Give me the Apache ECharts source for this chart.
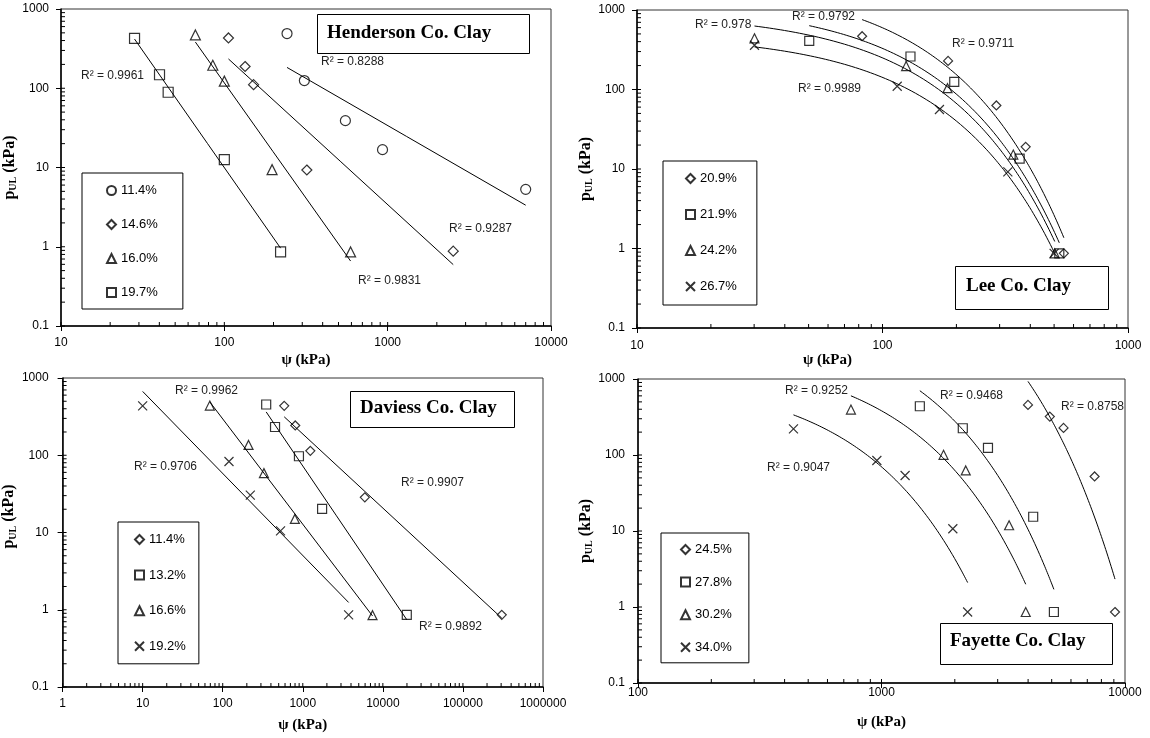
<!DOCTYPE html>
<html>
<head>
<meta charset="utf-8">
<script src="https://cdn.jsdelivr.net/npm/echarts@6/dist/echarts.min.js"></script>
<style>
  html, body { margin: 0; padding: 0; background: #fff; }
  #chart { width: 1150px; height: 738px; }
</style>
</head>
<body>
<div id="chart"></div>
<script>
// Ultimate lateral pressure p_UL (kPa) against suction ψ (kPa) for four clays.

// Henderson Co. Clay
const henderson114Psi = [242, 309, 551, 930, 7000];
const henderson114P   = [490, 125, 39, 16.8, 5.3];
const henderson146Psi = [106, 134, 151, 320, 2520];
const henderson146P   = [431, 188, 111, 9.3, 0.88];
const henderson160Psi = [66.5, 85, 100, 196, 593];
const henderson160P   = [471, 195, 123, 9.4, 0.86];
const henderson197Psi = [28.2, 40.1, 45.3, 100, 221];
const henderson197P   = [427, 148, 89, 12.6, 0.86];
const hendersonLabels = ['11.4%', '14.6%', '16.0%', '19.7%'];
const hendersonR2     = ['R² = 0.9961', 'R² = 0.8288', 'R² = 0.9287', 'R² = 0.9831'];

// Lee Co. Clay
const lee209Psi = [82.6, 185, 291, 383, 548];
const lee209P   = [468, 229, 63, 19, 0.87];
const lee219Psi = [50.3, 130, 196, 362, 525];
const lee219P   = [408, 260, 125, 13.5, 0.87];
const lee242Psi = [30.1, 124.8, 184, 341, 503];
const lee242P   = [440, 197, 104, 15.2, 0.87];
const lee267Psi = [30.1, 114.8, 170.6, 324, 500];
const lee267P   = [360, 110, 56, 9.2, 0.87];
const leeLabels = ['20.9%', '21.9%', '24.2%', '26.7%'];
const leeR2     = ['R² = 0.9792', 'R² = 0.978', 'R² = 0.9711', 'R² = 0.9989'];

// Daviess Co. Clay
const daviess114Psi = [586, 805, 1242, 5953, 305500];
const daviess114P   = [436, 243, 114, 28.5, 0.86];
const daviess132Psi = [349, 450, 895, 1742, 19900];
const daviess132P   = [454, 232, 97, 20.2, 0.86];
const daviess166Psi = [69, 210, 327, 796, 7430];
const daviess166P   = [440, 136, 58.7, 15, 0.85];
const daviess192Psi = [10, 119.7, 221, 527, 3736];
const daviess192P   = [436, 82.9, 30.5, 10.5, 0.86];
const daviessLabels = ['11.4%', '13.2%', '16.6%', '19.2%'];
const daviessR2     = ['R² = 0.9962', 'R² = 0.9706', 'R² = 0.9907', 'R² = 0.9892'];

// Fayette Co. Clay
const fayette245Psi = [3996, 4912, 5592, 7502, 9098];
const fayette245P   = [456, 320, 227, 52.2, 0.86];
const fayette278Psi = [1437, 2157, 2737, 4197, 5105];
const fayette278P   = [438, 225, 124, 15.4, 0.86];
const fayette302Psi = [749, 1798, 2218, 3342, 3911];
const fayette302P   = [396, 100.5, 62.6, 11.9, 0.86];
const fayette340Psi = [435, 957, 1250, 1963, 2258];
const fayette340P   = [221, 84.7, 53.8, 10.7, 0.86];
const fayetteLabels = ['24.5%', '27.8%', '30.2%', '34.0%'];
const fayetteR2     = ['R² = 0.9252', 'R² = 0.9468', 'R² = 0.8758', 'R² = 0.9047'];

const SERIF = '"Liberation Serif", "Times New Roman", serif';
const SANS = '"Liberation Sans", Arial, sans-serif';
const CROSS = 'path://M0,0L10,10M10,0L0,10';

const panels = [
  {
    title: 'Henderson Co. Clay', fit: 'power',
    grid: { left: 61, top: 9, width: 490, height: 317 }, xMin: 10, xMax: 10000,
    sets: [
      [henderson114Psi, henderson114P, 'circle'],
      [henderson146Psi, henderson146P, 'diamond'],
      [henderson160Psi, henderson160P, 'triangle'],
      [henderson197Psi, henderson197P, 'rect']
    ],
    labels: hendersonLabels, r2: hendersonR2,
    r2At: [[81, 76], [321, 62], [449, 229], [358, 281]],
    symbolSize: 10,
    xGap: 27, xShift: 0, yGap: 35, yShift: 0, xMargin: 11, yMargin: 12,
    titleBox: { left: 317, top: 14, padding: [8, 39, 10, 10] },
    legendBox: { left: 82, top: 173, padding: [11, 25, 10, 24], gap: 21 }
  },
  {
    title: 'Lee Co. Clay', fit: 'exp',
    grid: { left: 637, top: 10, width: 491, height: 318 }, xMin: 10, xMax: 1000,
    sets: [
      [lee209Psi, lee209P, 'diamond'],
      [lee219Psi, lee219P, 'rect'],
      [lee242Psi, lee242P, 'triangle'],
      [lee267Psi, lee267P, CROSS]
    ],
    labels: leeLabels, r2: leeR2,
    r2At: [[792, 17], [695, 25], [952, 44], [798, 89]],
    symbolSize: 9,
    xGap: 18, xShift: 110, yGap: 37, yShift: 0, xMargin: 12, yMargin: 12,
    titleBox: { left: 955, top: 266, padding: [9, 38, 13, 11] },
    legendBox: { left: 663, top: 161, padding: [11, 20, 12, 22], gap: 23 }
  },
  {
    title: 'Daviess Co. Clay', fit: 'power',
    grid: { left: 60, top: 378, width: 483, height: 309 }, xMin: 1, xMax: 1000000,
    sets: [
      [daviess114Psi, daviess114P, 'diamond'],
      [daviess132Psi, daviess132P, 'rect'],
      [daviess166Psi, daviess166P, 'triangle'],
      [daviess192Psi, daviess192P, CROSS]
    ],
    labels: daviessLabels, r2: daviessR2,
    r2At: [[175, 391], [134, 467], [401, 483], [419, 627]],
    symbolSize: 9,
    xGap: 31, xShift: 0, yGap: 34, yShift: 32, xMargin: 11, yMargin: 14,
    titleBox: { left: 350, top: 391, padding: [6, 18, 9, 10] },
    legendBox: { left: 118, top: 522, padding: [11, 13, 11, 16], gap: 22.6 }
  },
  {
    title: 'Fayette Co. Clay', fit: 'exp',
    grid: { left: 638, top: 379, width: 487, height: 304 }, xMin: 100, xMax: 10000,
    sets: [
      [fayette245Psi, fayette245P, 'diamond'],
      [fayette278Psi, fayette278P, 'rect'],
      [fayette302Psi, fayette302P, 'triangle'],
      [fayette340Psi, fayette340P, CROSS]
    ],
    labels: fayetteLabels, r2: fayetteR2,
    r2At: [[785, 391], [940, 396], [1061, 407], [767, 468]],
    symbolSize: 9,
    xGap: 32, xShift: 0, yGap: 33, yShift: 0, xMargin: 4, yMargin: 13,
    titleBox: { left: 940, top: 623, padding: [7, 27, 13, 10] },
    legendBox: { left: 661, top: 533, padding: [10, 17, 9, 19], gap: 19.6 }
  }
];

const Y_MIN = 0.1, Y_MAX = 1000;

// Least-squares line through (u, v)
function linreg(u, v) {
  const n = u.length;
  const mu = u.reduce((a, b) => a + b, 0) / n;
  const mv = v.reduce((a, b) => a + b, 0) / n;
  let sxy = 0, sxx = 0;
  for (let i = 0; i < n; i++) { sxy += (u[i] - mu) * (v[i] - mv); sxx += (u[i] - mu) ** 2; }
  const slope = sxy / sxx;
  return { slope, icpt: mv - slope * mu };
}

// Trendline over the data range: power law (straight on log-log) or exponential
function trend(psi, p, kind) {
  const ly = p.map(Math.log10);
  const lo = Math.log10(Math.min(...psi)), hi = Math.log10(Math.max(...psi));
  const fit = kind === 'power' ? linreg(psi.map(Math.log10), ly) : linreg(psi, ly);
  const steps = kind === 'power' ? 2 : 160;
  const pts = [];
  for (let i = 0; i <= steps; i++) {
    const x = Math.pow(10, lo + (hi - lo) * i / steps);
    const ux = kind === 'power' ? Math.log10(x) : x;
    pts.push([x, Math.pow(10, fit.icpt + fit.slope * ux)]);
  }
  return pts;
}

// Tick positions 1..9 × 10^k inside [lo, hi]
function logSubTicks(lo, hi) {
  const out = [];
  for (let e = Math.round(Math.log10(lo)); e < Math.round(Math.log10(hi)); e++) {
    for (let k = 1; k <= 9; k++) out.push(Number((k * Math.pow(10, e)).toPrecision(6)));
  }
  return out;
}

const fmt = v => String(Number(Number(v).toPrecision(6)));

const option = {
  animation: false,
  backgroundColor: '#fff',
  grid: [], xAxis: [], yAxis: [], series: [], legend: [], title: [], graphic: []
};

panels.forEach((pn, gi) => {
  option.grid.push(Object.assign({ show: true, borderColor: '#333', borderWidth: 1, backgroundColor: '#fff' }, pn.grid));

  option.xAxis.push({
    gridIndex: gi, type: 'log', logBase: 10, min: pn.xMin, max: pn.xMax,
    name: 'ψ (kPa)', nameLocation: 'middle', nameGap: pn.xGap,
    nameTextStyle: { fontFamily: SERIF, fontWeight: 'bold', fontSize: 15, color: '#000',
      padding: [0, pn.xShift, 0, 0] },
    axisLine: { show: true, onZero: false, lineStyle: { color: '#000', width: 1.5 } },
    axisTick: { show: true, inside: false, length: 5, lineStyle: { color: '#000' } },
    axisLabel: { formatter: fmt, fontFamily: SANS, fontSize: 12, color: '#000', margin: pn.xMargin },
    splitLine: { show: false }, minorTick: { show: false }
  });

  option.yAxis.push({
    gridIndex: gi, type: 'log', logBase: 10, min: Y_MIN, max: Y_MAX,
    name: '{p|p}{s|UL}{p| (kPa)}', nameLocation: 'middle', nameRotate: 90, nameGap: pn.yGap,
    nameTextStyle: {
      color: '#000', padding: [0, 0, 0, pn.yShift],
      rich: {
        p: { fontFamily: SERIF, fontWeight: 'bold', fontSize: 16, lineHeight: 18, color: '#000' },
        s: { fontFamily: SERIF, fontWeight: 'bold', fontSize: 10, lineHeight: 10, verticalAlign: 'bottom', color: '#000' }
      }
    },
    axisLine: { show: true, onZero: false, lineStyle: { color: '#000', width: 1.5 } },
    axisTick: { show: true, inside: false, length: 5, lineStyle: { color: '#000' } },
    axisLabel: { formatter: fmt, fontFamily: SANS, fontSize: 12, color: '#000', margin: pn.yMargin },
    splitLine: { show: false }, minorTick: { show: false }
  });

  // Inner tick marks at 1..9 of every decade
  option.series.push({
    type: 'custom', xAxisIndex: gi, yAxisIndex: gi, silent: true, z: 1,
    data: logSubTicks(pn.xMin, pn.xMax).map(v => [v, Y_MIN]),
    renderItem: (params, api) => {
      const pt = api.coord([api.value(0), api.value(1)]);
      return { type: 'line', shape: { x1: pt[0], y1: pt[1], x2: pt[0], y2: pt[1] - 4 },
        style: { stroke: '#000', lineWidth: 1 } };
    }
  });
  option.series.push({
    type: 'custom', xAxisIndex: gi, yAxisIndex: gi, silent: true, z: 1,
    data: logSubTicks(Y_MIN, Y_MAX).map(v => [pn.xMin, v]),
    renderItem: (params, api) => {
      const pt = api.coord([api.value(0), api.value(1)]);
      return { type: 'line', shape: { x1: pt[0], y1: pt[1], x2: pt[0] + 4, y2: pt[1] },
        style: { stroke: '#000', lineWidth: 1 } };
    }
  });

  const names = [];
  pn.sets.forEach((s, si) => {
    const name = pn.title + ' ' + pn.labels[si];
    names.push(name);
    option.series.push({
      name, type: 'scatter', xAxisIndex: gi, yAxisIndex: gi, z: 4,
      data: s[0].map((x, j) => [x, s[1][j]]),
      symbol: s[2], symbolSize: pn.symbolSize,
      itemStyle: { color: 'rgba(0,0,0,0)', borderColor: '#000', borderWidth: 1.2 }
    });
    option.series.push({
      type: 'line', xAxisIndex: gi, yAxisIndex: gi, z: 3, silent: true,
      data: trend(s[0], s[1], pn.fit), showSymbol: false, symbol: 'none', smooth: false,
      lineStyle: { color: '#000', width: 1 }
    });
  });

  const lb = pn.legendBox;
  const labelOf = {};
  names.forEach((n, i) => { labelOf[n] = pn.labels[i]; });
  option.legend.push({
    data: names, left: lb.left, top: lb.top, orient: 'vertical',
    padding: lb.padding, itemGap: lb.gap, itemWidth: 9, itemHeight: 9,
    borderColor: '#000', borderWidth: 1, backgroundColor: '#fff', selectedMode: false,
    formatter: n => labelOf[n],
    textStyle: { fontFamily: SANS, fontSize: 13, lineHeight: 13, color: '#000' }
  });

  const tb = pn.titleBox;
  option.title.push({
    text: pn.title, left: tb.left, top: tb.top, padding: tb.padding,
    borderColor: '#000', borderWidth: 1, backgroundColor: '#fff',
    textStyle: { fontFamily: SERIF, fontWeight: 'bold', fontSize: 19, lineHeight: 22, color: '#000' }
  });

  pn.r2.forEach((t, i) => {
    option.graphic.push({
      type: 'text', x: pn.r2At[i][0], y: pn.r2At[i][1], z: 10,
      style: { text: t, fontFamily: SANS, fontSize: 12, fill: '#222',
        verticalAlign: 'middle', textVerticalAlign: 'middle' }
    });
  });
});

const chart = echarts.init(document.getElementById('chart'));
chart.setOption(option);
</script>
</body>
</html>
